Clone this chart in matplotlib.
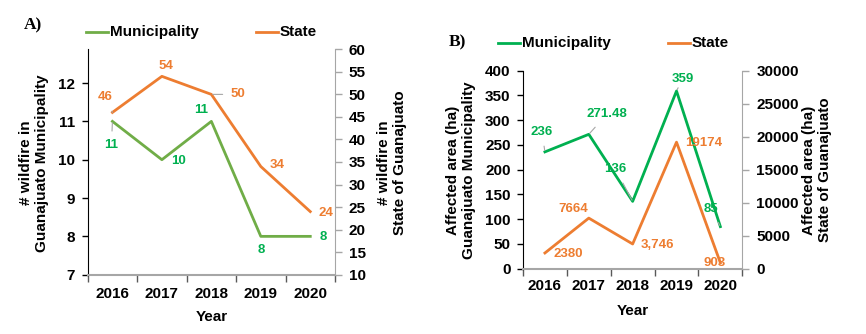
import matplotlib
matplotlib.use("Agg")
import matplotlib.pyplot as plt
from matplotlib.lines import Line2D

plt.rcParams['font.family'] = ['Liberation Sans', 'DejaVu Sans']
plt.rcParams['font.weight'] = 'bold'

years = ['2016', '2017', '2018', '2019', '2020']
fires_muni = [11, 10, 11, 8, 8]
fires_state = [46, 54, 50, 34, 24]
area_muni = [236, 271.48, 136, 359, 85]
area_state = [2380, 7664, 3746, 19174, 903]
area_muni_labels = ['236', '271.48', '136', '359', '85']
area_state_labels = ['2380', '7664', '3,746', '19174', '903']

GREEN_A = '#70AD47'
GREEN = '#00B050'
ORANGE = '#ED7D31'
GRAY = '#A6A6A6'
W, H = 866, 334
FS = 11

fig = plt.figure(figsize=(W / 100, H / 100), dpi=100)


def px_axes(x0, y0, x1, y1):
    return fig.add_axes([x0 / W, 1 - y1 / H, (x1 - x0) / W, (y1 - y0) / H])


def style(ax, ax2, xpad, labelpad):
    x = list(range(len(years)))
    ax.set_xlim(-0.5, len(years) - 0.5)
    ax.set_xticks(x)
    ax.set_xticklabels(years)
    ax.set_xticks([i - 0.5 for i in range(len(years) + 1)], minor=True)
    ax.tick_params(axis='x', which='major', length=0, pad=xpad, labelsize=FS)
    ax.tick_params(axis='x', which='minor', length=5, color='#595959', width=1)
    ax.tick_params(axis='y', length=4, color='black', width=1, labelsize=FS, pad=5)
    ax2.tick_params(axis='y', length=5, color=GRAY, width=1, labelsize=FS, pad=5)
    for a in (ax, ax2):
        a.spines['top'].set_visible(False)
        a.patch.set_visible(False)
    ax.spines['right'].set_visible(False)
    ax2.spines['left'].set_visible(False)
    ax2.spines['bottom'].set_visible(False)
    ax.spines['bottom'].set_color(GRAY)
    ax.spines['bottom'].set_linewidth(1.5)
    ax.spines['left'].set_color('black')
    ax2.spines['right'].set_color(GRAY)
    ax.set_xlabel('Year', fontsize=FS, fontweight='bold', labelpad=labelpad)


def label(ax, xi, yv, txt, dx, dy, color, fs, leader=False):
    kw = {}
    if leader:
        kw['arrowprops'] = dict(arrowstyle='-', color='#A6A6A6', lw=0.8, shrinkA=4, shrinkB=1)
    ax.annotate(txt, (xi, yv), xytext=(dx, dy), textcoords='offset pixels',
                ha='center', va='center', fontsize=fs, fontweight='bold', color=color, **kw)


# ---------------- Panel A ----------------
axA = px_axes(87.7, 49.3, 335, 274.7)
axA2 = axA.twinx()
x = list(range(len(years)))
axA.plot(x, fires_muni, color=GREEN_A, lw=2)
axA2.plot(x, fires_state, color=ORANGE, lw=2)
axA.set_ylim(7, 12.88)
axA.set_yticks([7, 8, 9, 10, 11, 12])
axA2.set_ylim(10, 60)
axA2.set_yticks(range(10, 61, 5))
style(axA, axA2, 8.5, 7)

offA_m = [(-1, -24, True), (17, -1, False), (-10, 11, False), (0, -14, False), (13, -1, False)]
for i, (dx, dy, ld) in enumerate(offA_m):
    label(axA, i, fires_muni[i], str(fires_muni[i]), dx, dy, GREEN, 9.5, ld)
offA_s = [(-7, 15, True), (4, 10, False), (27, 0, True), (16, 2, False), (16, -1, False)]
for i, (dx, dy, ld) in enumerate(offA_s):
    label(axA2, i, fires_state[i], str(fires_state[i]), dx, dy, ORANGE, 9.5, ld)

fig.text(34 / W, 1 - 163 / H, '# wildfire in\nGuanajuato Municipality', rotation=90,
         ha='center', va='center', fontsize=FS, fontweight='bold', multialignment='center',
         linespacing=1.1)
fig.text(392 / W, 1 - 163 / H, '# wildfire in\nState of Guanajuato', rotation=90,
         ha='center', va='center', fontsize=FS, fontweight='bold', multialignment='center',
         linespacing=1.1)
fig.text(24 / W, 1 - 25 / H, 'A)', family='Liberation Serif', fontweight='bold',
         fontsize=12.5, ha='left', va='center')

# ---------------- Panel B ----------------
axB = px_axes(523, 70.7, 742.3, 268.7)
axB2 = axB.twinx()
axB.plot(x, area_muni, color=GREEN, lw=2)
axB2.plot(x, area_state, color=ORANGE, lw=2)
axB.set_ylim(0, 400)
axB.set_yticks(range(0, 401, 50))
axB2.set_ylim(0, 30000)
axB2.set_yticks(range(0, 30001, 5000))
style(axB, axB2, 7.5, 8)

offB_m = [(-3, 20, True), (18, 20, True), (-17, 32, True), (6, 12, True), (-9, 18, True)]
for i, (dx, dy, ld) in enumerate(offB_m):
    label(axB, i, area_muni[i], area_muni_labels[i], dx, dy, GREEN, 9.5, ld)
offB_s = [(23, -1, False), (-16, 9, False), (25, -1, False), (27, -1, False), (-6, 0, False)]
for i, (dx, dy, ld) in enumerate(offB_s):
    label(axB2, i, area_state[i], area_state_labels[i], dx, dy, ORANGE, 9.5, ld)

fig.text(461 / W, 1 - 170 / H, 'Affected area (ha)\nGuanajuato Municipality', rotation=90,
         ha='center', va='center', fontsize=FS, fontweight='bold', multialignment='center',
         linespacing=1.1)
fig.text(817 / W, 1 - 170 / H, 'Affected area (ha)\nState of Guanajuato', rotation=90,
         ha='center', va='center', fontsize=FS, fontweight='bold', multialignment='center',
         linespacing=1.1)
fig.text(449 / W, 1 - 42 / H, 'B)', family='Liberation Serif', fontweight='bold',
         fontsize=12.5, ha='left', va='center')

# ---------------- Legends ----------------
def legend_item(x0, y, color, txt):
    fig.add_artist(Line2D([x0 / W, (x0 + 22) / W], [1 - y / H, 1 - y / H], color=color, lw=2))
    fig.text((x0 + 24) / W, 1 - y / H, txt, ha='left', va='center', fontsize=FS,
             fontweight='bold')

legend_item(86, 32, GREEN_A, 'Municipality')
legend_item(256, 32, ORANGE, 'State')
legend_item(498, 43, GREEN, 'Municipality')
legend_item(668, 43, ORANGE, 'State')

fig.savefig('out.png', dpi=100)
